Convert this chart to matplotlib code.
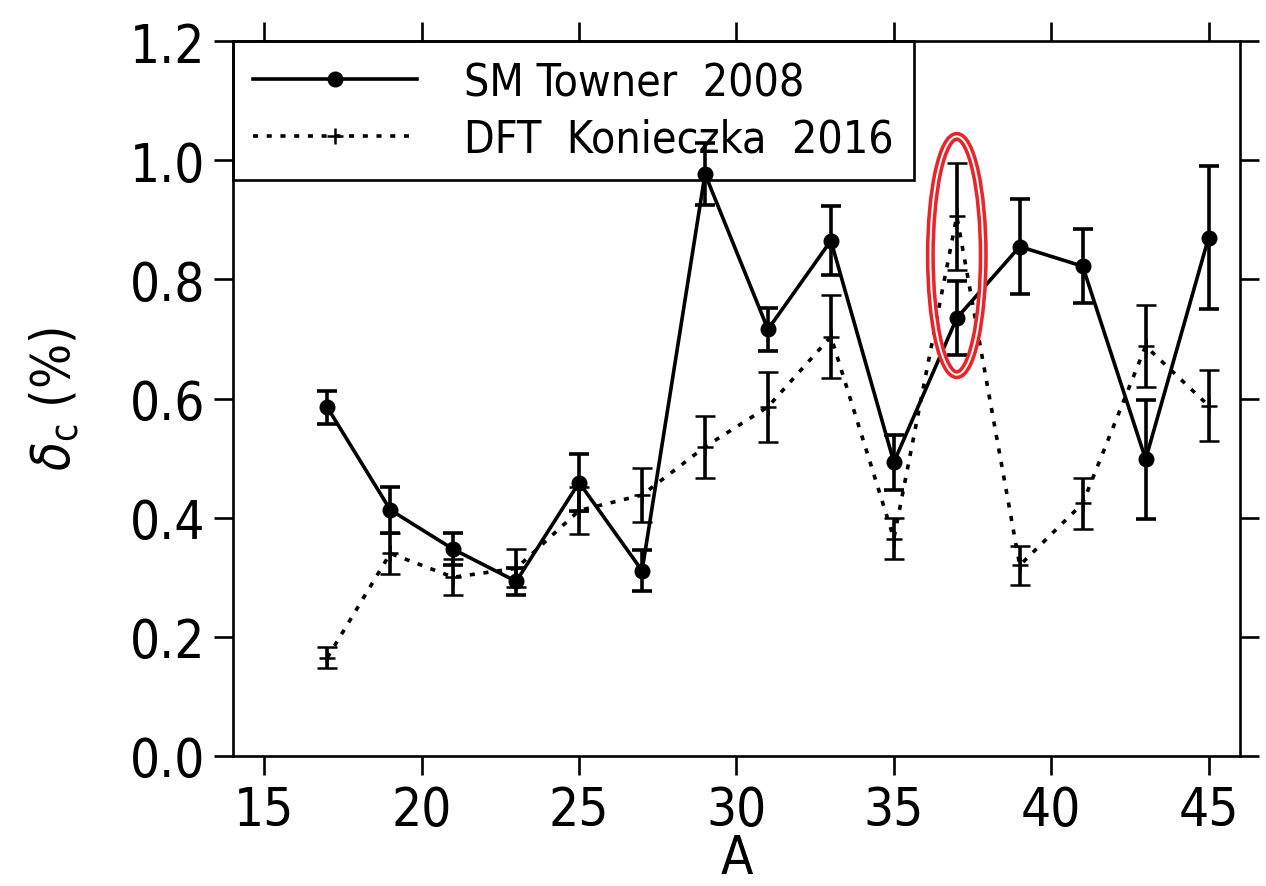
import numpy as np
import matplotlib
matplotlib.use("Agg")
import matplotlib.pyplot as plt
from matplotlib.patches import Ellipse
from matplotlib.lines import Line2D

plt.rcParams['font.family'] = ['DejaVu Sans']
plt.rcParams['font.stretch'] = 'condensed'
plt.rcParams['mathtext.fontset'] = 'dejavusans'

# mass number A
mass_a = [17, 19, 21, 23, 25, 27, 29, 31, 33, 35, 37, 39, 41, 43, 45]

# SM Towner 2008
towner = [0.585, 0.413, 0.347, 0.293, 0.459, 0.311, 0.977, 0.716, 0.865,
          0.493, 0.735, 0.855, 0.822, 0.498, 0.870]
towner_err = [0.027, 0.039, 0.027, 0.023, 0.048, 0.034, 0.052, 0.036, 0.058,
              0.046, 0.062, 0.080, 0.062, 0.100, 0.120]

# DFT Konieczka 2016
dft = [0.165, 0.340, 0.300, 0.315, 0.412, 0.438, 0.519, 0.586, 0.704,
       0.365, 0.906, 0.320, 0.424, 0.688, 0.588]
dft_err = [0.018, 0.035, 0.030, 0.032, 0.040, 0.045, 0.052, 0.059, 0.070,
           0.034, 0.090, 0.033, 0.043, 0.069, 0.060]

xticks = [15, 20, 25, 30, 35, 40, 45]
yticks = [0.0, 0.2, 0.4, 0.6, 0.8, 1.0, 1.2]

fig = plt.figure(figsize=(12.66, 8.87), dpi=100)
ax = fig.add_axes([0.184, 0.1466, 0.7955, 0.806])

lw = 2.6
dotted = (0, (1.4, 2.4))
ax.errorbar(mass_a, towner, yerr=towner_err, color='black', lw=lw,
            marker='o', ms=10.5, elinewidth=lw, capsize=7, capthick=lw,
            zorder=4)
ax.errorbar(mass_a, dft, yerr=dft_err, color='black', lw=lw,
            ls=dotted, marker='+', ms=12, mew=1.8,
            elinewidth=lw, capsize=7, capthick=lw, zorder=3)

# highlighted point (red double ellipse)
ax.add_patch(Ellipse((37, 0.84), 1.68, 0.40, fill=False, ec='#e8262a', lw=6.5, zorder=5))
ax.add_patch(Ellipse((37, 0.84), 1.68, 0.40, fill=False, ec='white', lw=1.4, zorder=6))

ax.set_xlim(14, 46)
ax.set_ylim(0, 1.2)
ax.set_xticks(xticks)
ax.set_yticks(yticks)
ax.set_yticklabels([f'{v:.1f}' for v in yticks])
ax.tick_params(direction='out', length=14, width=1.9, labelsize=38,
               top=True, right=True, pad=6)
for s in ax.spines.values():
    s.set_linewidth(1.9)

ax.set_xlabel('A', fontsize=38)
ax.xaxis.set_label_coords(0.5, -0.1795)
ax.xaxis.label.set_va('bottom')
ax.set_ylabel(r'$\delta_{\rm c}$ (%)', fontsize=38)
ax.yaxis.set_label_coords(-0.177, 0.5)
ax.yaxis.label.set_va('center')

handles = [Line2D([], [], color='black', lw=lw, marker='o', ms=10.5),
           Line2D([], [], color='black', lw=lw, ls=dotted, marker='+', ms=12, mew=1.8)]
leg = ax.legend(handles, ['SM Towner  2008', 'DFT  Konieczka  2016'],
                loc='upper left', fontsize=32, frameon=True, fancybox=False,
                edgecolor='black', borderaxespad=0, borderpad=0.45,
                handlelength=3.7, handletextpad=1.05, labelspacing=0.3,
                framealpha=1)
leg.get_frame().set_linewidth(1.9)
leg.set_zorder(1)

fig.savefig('out.png', dpi=100)
